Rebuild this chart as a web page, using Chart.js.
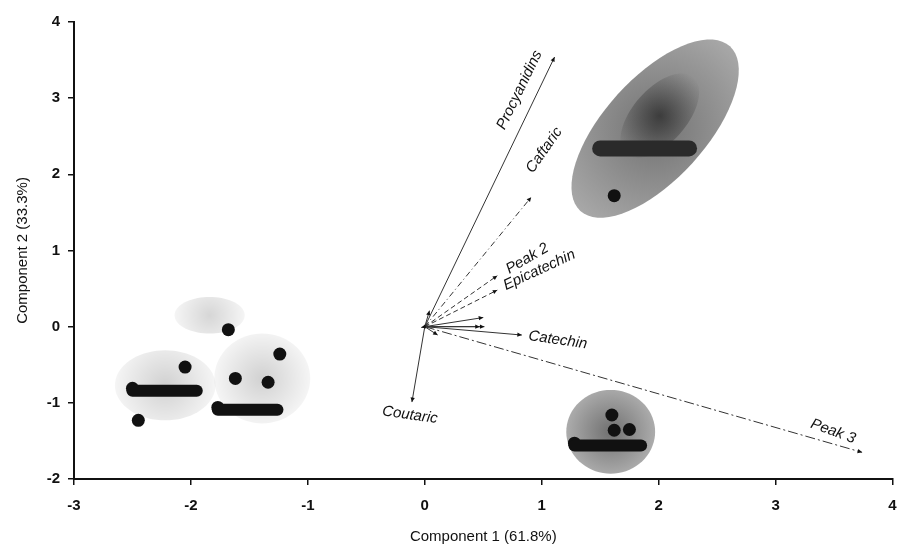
<!DOCTYPE html>
<html>
<head>
<meta charset="utf-8">
<script src="https://cdn.jsdelivr.net/npm/chart.js@4.4.1/dist/chart.umd.min.js"></script>
<style>
  html, body { margin: 0; padding: 0; background: #fff; }
  #wrap { width: 899px; height: 556px; }
</style>
</head>
<body>
<div id="wrap"><canvas id="chart1"></canvas></div>
<script>
// variable loadings (arrow tips)
var loadNames = ["Procyanidins", "Caftaric", "Peak 2", "Epicatechin", "Catechin", "Peak 3", "Coutaric", "", "", "", "", "", ""];
var loadX = [1.11, 0.91, 0.62, 0.62, 0.83, 3.74, -0.11, 0.50, 0.51, 0.47, 0.11, 0.04, -0.03];
var loadY = [3.54, 1.70, 0.67, 0.48, -0.11, -1.65, -0.99, 0.12, 0.00, 0.00, -0.11, 0.21, -0.01];

// sample scores
var scoreX = [-1.68, -2.05, -2.50, -2.45, -1.62, -1.24, -1.34, -1.77, 1.62, 1.60, 1.62, 1.75, 1.28];
var scoreY = [-0.04, -0.53, -0.81, -1.23, -0.68, -0.36, -0.73, -1.06, 1.72, -1.16, -1.36, -1.35, -1.53];

// rows of overlapping scores
var rowX1 = [-2.50, -1.77, 1.50, 1.28];
var rowX2 = [-1.95, -1.26, 2.26, 1.85];
var rowY = [-0.84, -1.09, 2.34, -1.56];

// score clouds: centre and two half axes
var cloudX = [1.97, 2.01, 1.59, -1.84, -2.22, -1.39];
var cloudY = [2.60, 2.77, -1.38, 0.15, -0.77, -0.68];
var cloudAx = [0.64, 0.29, 0.38, 0.30, 0.43, 0.41];
var cloudAy = [1.08, 0.50, 0.00, 0.00, 0.00, 0.00];
var cloudBx = [0.32, 0.17, 0.00, 0.00, 0.00, 0.00];
var cloudBy = [-0.45, -0.24, 0.55, 0.24, 0.46, 0.59];

// styles
var cloudStyle = [
  ["#727272", "#a8a8a8"],
  ["rgba(40,40,40,0.75)", "rgba(60,60,60,0.0)"],
  ["#707070", "#acacac"],
  ["rgba(0,0,0,0.16)", "rgba(0,0,0,0.04)"],
  ["rgba(0,0,0,0.18)", "rgba(0,0,0,0.04)"],
  ["rgba(0,0,0,0.18)", "rgba(0,0,0,0.04)"]
];
var arrowDash = [[], [6, 3, 1, 3], [5, 3], [5, 3], [], [10, 3, 2, 3], [], [], [], [], [], [], []];
// label placement relative to arrow tip (pixels) and rotation (degrees)
var labelDx = [-35, 13, 30, 42, 36, -29, -2];
var labelDy = [33, -47, -17, -20, 5, -21, 13];
var labelRot = [-64, -55, -30, -25, 8, 20, 8];

var arrowSets = loadX.map(function (x, i) {
  return {
    type: "line",
    data: [{ x: 0, y: 0 }, { x: x, y: loadY[i] }],
    borderColor: "#333",
    borderWidth: 1,
    borderDash: arrowDash[i],
    pointRadius: 0,
    fill: false
  };
});

var rowSets = rowY.map(function (y, i) {
  return {
    type: "line",
    data: [{ x: rowX1[i], y: y }, { x: rowX2[i], y: y }],
    borderColor: i === 2 ? "#2a2a2a" : "#111",
    borderWidth: i === 2 ? 16 : 12,
    borderCapStyle: "round",
    pointRadius: 0,
    fill: false
  };
});

var pointSet = {
  type: "scatter",
  data: scoreX.map(function (x, i) { return { x: x, y: scoreY[i] }; }),
  backgroundColor: "#111",
  borderWidth: 0,
  pointRadius: 6.5
};

var cloudPlugin = {
  id: "clouds",
  beforeDatasetsDraw: function (chart) {
    var ctx = chart.ctx, xs = chart.scales.x, ys = chart.scales.y;
    var ox = xs.getPixelForValue(0), oy = ys.getPixelForValue(0);
    ctx.save();
    for (var i = 0; i < cloudX.length; i++) {
      var cx = xs.getPixelForValue(cloudX[i]), cy = ys.getPixelForValue(cloudY[i]);
      var ax = xs.getPixelForValue(cloudAx[i]) - ox, ay = ys.getPixelForValue(cloudAy[i]) - oy;
      var bx = xs.getPixelForValue(cloudBx[i]) - ox, by = ys.getPixelForValue(cloudBy[i]) - oy;
      var r = Math.max(Math.hypot(ax, ay), Math.hypot(bx, by));
      var g = ctx.createRadialGradient(cx, cy, 0, cx, cy, r);
      g.addColorStop(0, cloudStyle[i][0]);
      g.addColorStop(1, cloudStyle[i][1]);
      ctx.beginPath();
      for (var k = 0; k <= 72; k++) {
        var t = k / 72 * Math.PI * 2;
        var px = cx + ax * Math.cos(t) + bx * Math.sin(t);
        var py = cy + ay * Math.cos(t) + by * Math.sin(t);
        if (k === 0) ctx.moveTo(px, py); else ctx.lineTo(px, py);
      }
      ctx.closePath();
      ctx.fillStyle = g;
      ctx.fill();
    }
    ctx.restore();
  },
  afterDatasetsDraw: function (chart) {
    var ctx = chart.ctx, xs = chart.scales.x, ys = chart.scales.y;
    var ox = xs.getPixelForValue(0), oy = ys.getPixelForValue(0);
    ctx.save();
    ctx.fillStyle = "#111";
    for (var i = 0; i < loadX.length; i++) {
      var tx = xs.getPixelForValue(loadX[i]), ty = ys.getPixelForValue(loadY[i]);
      var a = Math.atan2(ty - oy, tx - ox);
      ctx.beginPath();
      ctx.moveTo(tx, ty);
      ctx.lineTo(tx - 5 * Math.cos(a - 0.45), ty - 5 * Math.sin(a - 0.45));
      ctx.lineTo(tx - 5 * Math.cos(a + 0.45), ty - 5 * Math.sin(a + 0.45));
      ctx.closePath();
      ctx.fill();
      if (!loadNames[i]) continue;
      ctx.save();
      ctx.translate(tx + labelDx[i], ty + labelDy[i]);
      ctx.rotate(labelRot[i] * Math.PI / 180);
      ctx.font = "italic 15px 'Liberation Sans', Arial, sans-serif";
      ctx.textAlign = "center";
      ctx.textBaseline = "middle";
      ctx.fillText(loadNames[i], 0, 0);
      ctx.restore();
    }
    ctx.restore();
  }
};

var tickFont = { family: "'Liberation Sans', Arial, sans-serif", size: 15, weight: "bold" };
var titleFont = { family: "'Liberation Sans', Arial, sans-serif", size: 15 };

new Chart(document.getElementById("chart1"), {
  type: "scatter",
  data: { datasets: arrowSets.concat(rowSets, [pointSet]) },
  plugins: [cloudPlugin],
  options: {
    responsive: true,
    maintainAspectRatio: false,
    animation: false,
    layout: { padding: { left: 8, right: 6, top: 22, bottom: 8 } },
    plugins: { legend: { display: false }, tooltip: { enabled: false } },
    scales: {
      x: {
        type: "linear",
        min: -3, max: 4,
        ticks: { stepSize: 1, color: "#111", font: tickFont, padding: 12 },
        grid: { drawOnChartArea: false, drawTicks: true, tickLength: 6, color: "#111", lineWidth: 1.5 },
        border: { display: true, color: "#111", width: 2 },
        title: { display: true, text: "Component 1 (61.8%)", color: "#111", font: titleFont, padding: { top: 12, bottom: 2 } },
        afterFit: function (s) { s.height = 556 - 479 - 8; s.paddingLeft = 0; s.paddingRight = 0; }
      },
      y: {
        type: "linear",
        min: -2, max: 4,
        ticks: { stepSize: 1, color: "#111", font: tickFont, padding: 8 },
        grid: { drawOnChartArea: false, drawTicks: true, tickLength: 6, color: "#111", lineWidth: 1.5 },
        border: { display: true, color: "#111", width: 2 },
        title: { display: true, text: "Component 2 (33.3%)", color: "#111", font: titleFont, padding: { top: 6, bottom: 0 } },
        afterFit: function (s) { s.width = 74 - 8; s.paddingTop = 0; s.paddingBottom = 0; }
      }
    }
  }
});
</script>
</body>
</html>
